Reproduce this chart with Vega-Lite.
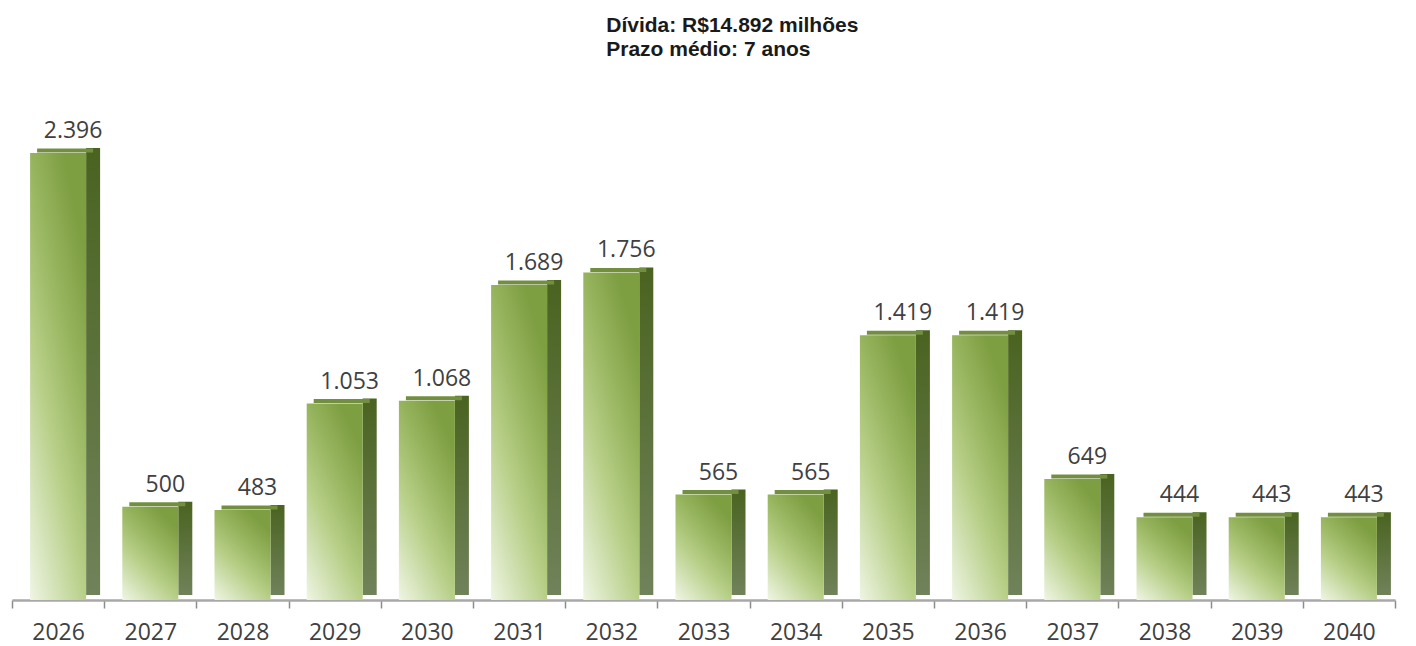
{
  "$schema": "https://vega.github.io/schema/vega-lite/v6.json",
  "autosize": "none",
  "width": 1383,
  "height": 500,
  "padding": {"left": 12, "top": 100, "right": 21, "bottom": 46},
  "background": "white",
  "config": {
    "view": {"stroke": null},
    "locale": {"number": {"decimal": ",", "thousands": ".", "grouping": [3], "currency": ["R$", ""]}}
  },
  "title": {
    "text": ["Dívida: R$14.892 milhões", "Prazo médio: 7 anos"],
    "anchor": "start",
    "align": "left",
    "dx": 595,
    "offset": 40,
    "font": "Liberation Sans",
    "fontSize": 21,
    "fontWeight": "bold",
    "lineHeight": 24,
    "color": "#1a1a1a"
  },
  "data": {
    "values": [
      {"ano": "2026", "valor": 2396},
      {"ano": "2027", "valor": 500},
      {"ano": "2028", "valor": 483},
      {"ano": "2029", "valor": 1053},
      {"ano": "2030", "valor": 1068},
      {"ano": "2031", "valor": 1689},
      {"ano": "2032", "valor": 1756},
      {"ano": "2033", "valor": 565},
      {"ano": "2034", "valor": 565},
      {"ano": "2035", "valor": 1419},
      {"ano": "2036", "valor": 1419},
      {"ano": "2037", "valor": 649},
      {"ano": "2038", "valor": 444},
      {"ano": "2039", "valor": 443},
      {"ano": "2040", "valor": 443}
    ]
  },
  "encoding": {
    "x": {
      "field": "ano",
      "type": "ordinal",
      "scale": {"paddingInner": 0, "paddingOuter": 0},
      "axis": {
        "title": null,
        "labelAngle": 0,
        "labelFont": "Open Sans",
        "labelFontSize": 23,
        "labelColor": "#404040",
        "labelPadding": 13,
        "domainColor": "#a8a8a8",
        "domainWidth": 2.5,
        "tickColor": "#8c8c8c",
        "tickSize": 8,
        "tickWidth": 1.5,
        "tickBand": "extent"
      }
    },
    "y": {
      "field": "valor",
      "type": "quantitative",
      "scale": {"domain": [0, 2680]},
      "axis": null
    }
  },
  "layer": [
    {
      "mark": {
        "type": "bar",
        "width": 14,
        "xOffset": 35,
        "yOffset": -5,
        "fill": {
          "gradient": "linear",
          "x1": 0, "y1": 0, "x2": 0, "y2": 1,
          "stops": [
            {"offset": 0, "color": "#4a6320"},
            {"offset": 1, "color": "#70825a"}
          ]
        }
      }
    },
    {
      "mark": {
        "type": "tick",
        "orient": "horizontal",
        "size": 56,
        "thickness": 4,
        "xOffset": 7,
        "yOffset": -2.5,
        "color": "#728f40",
        "opacity": 1
      }
    },
    {
      "mark": {
        "type": "bar",
        "width": 56,
        "fill": {
          "gradient": "linear",
          "x1": 0, "y1": 1, "x2": 0.6, "y2": 0,
          "stops": [
            {"offset": 0, "color": "#eff5e4"},
            {"offset": 0.45, "color": "#b6ce86"},
            {"offset": 0.75, "color": "#95b35c"},
            {"offset": 1, "color": "#7e9e42"}
          ]
        }
      }
    },
    {
      "mark": {
        "type": "text",
        "baseline": "alphabetic",
        "align": "center",
        "dx": 15,
        "dy": -15,
        "font": "Open Sans",
        "fontSize": 23,
        "color": "#404040"
      },
      "encoding": {
        "text": {"field": "valor", "type": "quantitative", "format": ",d"}
      }
    }
  ]
}
